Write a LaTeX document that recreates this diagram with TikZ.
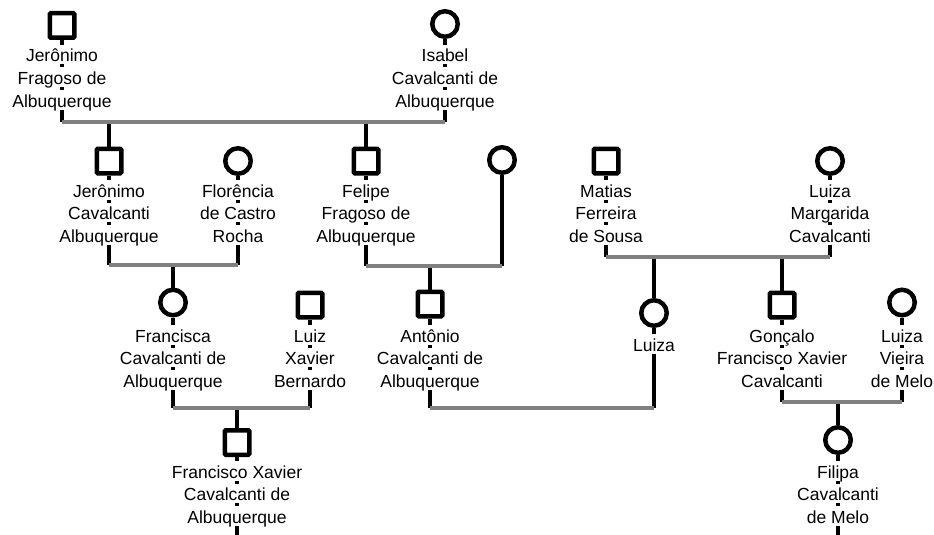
\documentclass[tikz,border=0pt]{standalone}
\usepackage{fontspec}
\setmainfont{Liberation Sans}
\definecolor{unioncol}{RGB}{128,128,128}
% one label line per node, first baseline at #3, lines 22.5pt apart
\newcommand\namelines[4]{%
  \foreach \txt [count=\k] in {#4}{%
    \node[lbl] (#1-\k) at (#2,{#3+22.5*(\k-1)}) {\txt};}}
\begin{document}
\begin{tikzpicture}[x=1pt,y=-1pt,
  male/.style={rectangle, draw, line width=4.5pt, minimum size=24.5pt, inner sep=0pt, rounded corners=1pt},
  female/.style={circle, draw, line width=4.5pt, minimum size=25.5pt, inner sep=0pt},
  life/.style={line width=4.5pt, draw=black},
  union/.style={line width=4.5pt, draw=unioncol},
  lbl/.style={fill=white, inner sep=0pt, anchor=base, text height=17pt, text depth=2.5pt,
              font=\fontsize{17.5}{20}\selectfont}]
\useasboundingbox (0,0) rectangle (934,535);

% generation 1
\node[male]   (jfa) at (62,25.5) {};
\node[female] (ica) at (445,24) {};
% generation 2
\node[male]   (jca) at (109,161) {};
\node[female] (fcr) at (238,161) {};
\node[male]   (ffa) at (366,161) {};
\node[female] (unk) at (502,160) {};
\node[male]   (mfs) at (606,161) {};
\node[female] (lmc) at (830,161) {};
% generation 3
\node[female] (fca) at (173,302.5) {};
\node[male]   (lxb) at (310,305) {};
\node[male]   (aca) at (430,304) {};
\node[female] (lui) at (654,313) {};
\node[male]   (gfx) at (782,305) {};
\node[female] (lvm) at (902,302.5) {};
% generation 4
\node[male]   (fxc) at (237,442.5) {};
\node[female] (fcm) at (838,440) {};

% heights of the marriage bars
\coordinate (u1) at (0,122);
\coordinate (u2) at (0,265);
\coordinate (u3) at (0,266);
\coordinate (u4) at (0,257);
\coordinate (u5) at (0,408);
\coordinate (u6) at (0,408);
\coordinate (u7) at (0,402);
\coordinate (bottom) at (0,538);

% lines from each spouse down to the bar
\draw[life] (jfa.south) -- (jfa |- u1);
\draw[life] (ica.south) -- (ica |- u1);
\draw[life] (jca.south) -- (jca |- u2);
\draw[life] (fcr.south) -- (fcr |- u2);
\draw[life] (ffa.south) -- (ffa |- u3);
\draw[life] (unk.south) -- (unk |- u3);
\draw[life] (mfs.south) -- (mfs |- u4);
\draw[life] (lmc.south) -- (lmc |- u4);
\draw[life] (fca.south) -- (fca |- u5);
\draw[life] (lxb.south) -- (lxb |- u5);
\draw[life] (aca.south) -- (aca |- u6);
\draw[life] (lui.south) -- (lui |- u6);
\draw[life] (gfx.south) -- (gfx |- u7);
\draw[life] (lvm.south) -- (lvm |- u7);
\draw[life] (fxc.south) -- (fxc |- bottom);
\draw[life] (fcm.south) -- (fcm |- bottom);

% lines from the bars down to the children
\draw[life] (jca |- u1) -- (jca.north);
\draw[life] (ffa |- u1) -- (ffa.north);
\draw[life] (fca |- u2) -- (fca.north);
\draw[life] (aca |- u3) -- (aca.north);
\draw[life] (lui |- u4) -- (lui.north);
\draw[life] (gfx |- u4) -- (gfx.north);
\draw[life] (fxc |- u5) -- (fxc.north);
\draw[life] (fcm |- u7) -- (fcm.north);

% marriage bars
\draw[union] (jfa |- u1) -- (ica |- u1);
\draw[union] (jca |- u2) -- (fcr |- u2);
\draw[union] (ffa |- u3) -- (unk |- u3);
\draw[union] (mfs |- u4) -- (lmc |- u4);
\draw[union] (fca |- u5) -- (lxb |- u5);
\draw[union] (aca |- u6) -- (lui |- u6);
\draw[union] (gfx |- u7) -- (lvm |- u7);

% names
\namelines{jfa-t}{62}{62}{Jerônimo,Fragoso de,Albuquerque}
\namelines{ica-t}{445}{62}{Isabel,Cavalcanti de,Albuquerque}
\namelines{jca-t}{109}{197}{Jerônimo,Cavalcanti,Albuquerque}
\namelines{fcr-t}{238}{197}{Florência,de Castro,Rocha}
\namelines{ffa-t}{366}{197}{Felipe,Fragoso de,Albuquerque}
\namelines{mfs-t}{606}{197}{Matias,Ferreira,de Sousa}
\namelines{lmc-t}{830}{197}{Luiza,Margarida,Cavalcanti}
\namelines{fca-t}{173}{342}{Francisca,Cavalcanti de,Albuquerque}
\namelines{lxb-t}{310}{342}{Luiz,Xavier,Bernardo}
\namelines{aca-t}{430}{342}{Antônio,Cavalcanti de,Albuquerque}
\namelines{lui-t}{654}{351}{Luiza}
\namelines{gfx-t}{782}{342}{Gonçalo,Francisco Xavier,Cavalcanti}
\namelines{lvm-t}{902}{342}{Luiza,Vieira,de Melo}
\namelines{fxc-t}{237}{478}{Francisco Xavier,Cavalcanti de,Albuquerque}
\namelines{fcm-t}{838}{478}{Filipa,Cavalcanti,de Melo}
\end{tikzpicture}
\end{document}
